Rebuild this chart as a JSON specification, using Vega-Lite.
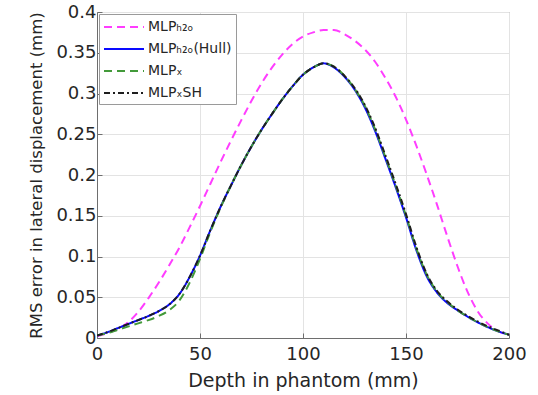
{
  "$schema": "https://vega.github.io/schema/vega-lite/v6.json",
  "width": 412,
  "height": 326,
  "autosize": {"type": "none"},
  "padding": {"left": 97, "top": 12, "right": 29, "bottom": 57},
  "background": "white",
  "config": {
    "font": "DejaVu Sans",
    "view": {"stroke": "#8a8a8a", "strokeWidth": 1},
    "axis": {
      "gridColor": "#e3e3e3",
      "gridWidth": 1,
      "domainColor": "#6e6e6e",
      "tickColor": "#6e6e6e",
      "labelColor": "#262626",
      "titleColor": "#262626",
      "labelFont": "DejaVu Sans",
      "titleFont": "DejaVu Sans",
      "titleFontWeight": "normal"
    },
    "legend": {
      "title": null, "orient": "top-left", "offset": 2,
      "symbolType": "M-1,0H4", "symbolStrokeWidth": 2, "symbolSize": 256,
      "labelOffset": 27, "labelFontSize": 14, "labelColor": "#262626", "labelFont": "DejaVu Sans",
      "fillColor": "white", "strokeColor": "#9a9a9a", "padding": 4, "rowPadding": 6
    }
  },
  "data": {
    "values": [
      {"s": "MLPₕ₂ₒ", "x": 0, "y": 0.002}, {"s": "MLPₕ₂ₒ", "x": 5, "y": 0.006}, {"s": "MLPₕ₂ₒ", "x": 10, "y": 0.011}, {"s": "MLPₕ₂ₒ", "x": 15, "y": 0.019}, {"s": "MLPₕ₂ₒ", "x": 20, "y": 0.032}, {"s": "MLPₕ₂ₒ", "x": 25, "y": 0.049}, {"s": "MLPₕ₂ₒ", "x": 30, "y": 0.068}, {"s": "MLPₕ₂ₒ", "x": 35, "y": 0.089}, {"s": "MLPₕ₂ₒ", "x": 40, "y": 0.111}, {"s": "MLPₕ₂ₒ", "x": 45, "y": 0.136}, {"s": "MLPₕ₂ₒ", "x": 50, "y": 0.162}, {"s": "MLPₕ₂ₒ", "x": 55, "y": 0.189}, {"s": "MLPₕ₂ₒ", "x": 60, "y": 0.216}, {"s": "MLPₕ₂ₒ", "x": 65, "y": 0.242}, {"s": "MLPₕ₂ₒ", "x": 70, "y": 0.267}, {"s": "MLPₕ₂ₒ", "x": 75, "y": 0.291}, {"s": "MLPₕ₂ₒ", "x": 80, "y": 0.313}, {"s": "MLPₕ₂ₒ", "x": 85, "y": 0.332}, {"s": "MLPₕ₂ₒ", "x": 90, "y": 0.348}, {"s": "MLPₕ₂ₒ", "x": 95, "y": 0.361}, {"s": "MLPₕ₂ₒ", "x": 100, "y": 0.370}, {"s": "MLPₕ₂ₒ", "x": 105, "y": 0.375}, {"s": "MLPₕ₂ₒ", "x": 110, "y": 0.378}, {"s": "MLPₕ₂ₒ", "x": 115, "y": 0.378}, {"s": "MLPₕ₂ₒ", "x": 120, "y": 0.373}, {"s": "MLPₕ₂ₒ", "x": 125, "y": 0.365}, {"s": "MLPₕ₂ₒ", "x": 130, "y": 0.354}, {"s": "MLPₕ₂ₒ", "x": 135, "y": 0.339}, {"s": "MLPₕ₂ₒ", "x": 140, "y": 0.319}, {"s": "MLPₕ₂ₒ", "x": 145, "y": 0.296}, {"s": "MLPₕ₂ₒ", "x": 150, "y": 0.268}, {"s": "MLPₕ₂ₒ", "x": 155, "y": 0.236}, {"s": "MLPₕ₂ₒ", "x": 160, "y": 0.201}, {"s": "MLPₕ₂ₒ", "x": 165, "y": 0.164}, {"s": "MLPₕ₂ₒ", "x": 170, "y": 0.125}, {"s": "MLPₕ₂ₒ", "x": 175, "y": 0.088}, {"s": "MLPₕ₂ₒ", "x": 180, "y": 0.056}, {"s": "MLPₕ₂ₒ", "x": 185, "y": 0.032}, {"s": "MLPₕ₂ₒ", "x": 190, "y": 0.017}, {"s": "MLPₕ₂ₒ", "x": 195, "y": 0.008}, {"s": "MLPₕ₂ₒ", "x": 200, "y": 0.004},

      {"s": "MLPₕ₂ₒ(Hull)", "x": 0, "y": 0.003}, {"s": "MLPₕ₂ₒ(Hull)", "x": 5, "y": 0.007}, {"s": "MLPₕ₂ₒ(Hull)", "x": 10, "y": 0.012}, {"s": "MLPₕ₂ₒ(Hull)", "x": 15, "y": 0.017}, {"s": "MLPₕ₂ₒ(Hull)", "x": 20, "y": 0.022}, {"s": "MLPₕ₂ₒ(Hull)", "x": 25, "y": 0.027}, {"s": "MLPₕ₂ₒ(Hull)", "x": 30, "y": 0.033}, {"s": "MLPₕ₂ₒ(Hull)", "x": 35, "y": 0.041}, {"s": "MLPₕ₂ₒ(Hull)", "x": 40, "y": 0.054}, {"s": "MLPₕ₂ₒ(Hull)", "x": 45, "y": 0.075}, {"s": "MLPₕ₂ₒ(Hull)", "x": 50, "y": 0.101}, {"s": "MLPₕ₂ₒ(Hull)", "x": 55, "y": 0.132}, {"s": "MLPₕ₂ₒ(Hull)", "x": 60, "y": 0.161}, {"s": "MLPₕ₂ₒ(Hull)", "x": 65, "y": 0.187}, {"s": "MLPₕ₂ₒ(Hull)", "x": 70, "y": 0.212}, {"s": "MLPₕ₂ₒ(Hull)", "x": 75, "y": 0.235}, {"s": "MLPₕ₂ₒ(Hull)", "x": 80, "y": 0.256}, {"s": "MLPₕ₂ₒ(Hull)", "x": 85, "y": 0.275}, {"s": "MLPₕ₂ₒ(Hull)", "x": 90, "y": 0.293}, {"s": "MLPₕ₂ₒ(Hull)", "x": 95, "y": 0.309}, {"s": "MLPₕ₂ₒ(Hull)", "x": 100, "y": 0.323}, {"s": "MLPₕ₂ₒ(Hull)", "x": 105, "y": 0.332}, {"s": "MLPₕ₂ₒ(Hull)", "x": 110, "y": 0.337}, {"s": "MLPₕ₂ₒ(Hull)", "x": 115, "y": 0.332}, {"s": "MLPₕ₂ₒ(Hull)", "x": 120, "y": 0.321}, {"s": "MLPₕ₂ₒ(Hull)", "x": 125, "y": 0.305}, {"s": "MLPₕ₂ₒ(Hull)", "x": 130, "y": 0.283}, {"s": "MLPₕ₂ₒ(Hull)", "x": 135, "y": 0.254}, {"s": "MLPₕ₂ₒ(Hull)", "x": 140, "y": 0.220}, {"s": "MLPₕ₂ₒ(Hull)", "x": 145, "y": 0.185}, {"s": "MLPₕ₂ₒ(Hull)", "x": 150, "y": 0.148}, {"s": "MLPₕ₂ₒ(Hull)", "x": 155, "y": 0.108}, {"s": "MLPₕ₂ₒ(Hull)", "x": 160, "y": 0.076}, {"s": "MLPₕ₂ₒ(Hull)", "x": 165, "y": 0.056}, {"s": "MLPₕ₂ₒ(Hull)", "x": 170, "y": 0.043}, {"s": "MLPₕ₂ₒ(Hull)", "x": 175, "y": 0.034}, {"s": "MLPₕ₂ₒ(Hull)", "x": 180, "y": 0.026}, {"s": "MLPₕ₂ₒ(Hull)", "x": 185, "y": 0.019}, {"s": "MLPₕ₂ₒ(Hull)", "x": 190, "y": 0.013}, {"s": "MLPₕ₂ₒ(Hull)", "x": 195, "y": 0.008}, {"s": "MLPₕ₂ₒ(Hull)", "x": 200, "y": 0.004},

      {"s": "MLPₓ", "x": 0, "y": 0.003}, {"s": "MLPₓ", "x": 5, "y": 0.006}, {"s": "MLPₓ", "x": 10, "y": 0.010}, {"s": "MLPₓ", "x": 15, "y": 0.014}, {"s": "MLPₓ", "x": 20, "y": 0.018}, {"s": "MLPₓ", "x": 25, "y": 0.022}, {"s": "MLPₓ", "x": 30, "y": 0.027}, {"s": "MLPₓ", "x": 35, "y": 0.034}, {"s": "MLPₓ", "x": 40, "y": 0.046}, {"s": "MLPₓ", "x": 45, "y": 0.068}, {"s": "MLPₓ", "x": 50, "y": 0.097}, {"s": "MLPₓ", "x": 55, "y": 0.130}, {"s": "MLPₓ", "x": 60, "y": 0.160}, {"s": "MLPₓ", "x": 65, "y": 0.187}, {"s": "MLPₓ", "x": 70, "y": 0.212}, {"s": "MLPₓ", "x": 75, "y": 0.235}, {"s": "MLPₓ", "x": 80, "y": 0.256}, {"s": "MLPₓ", "x": 85, "y": 0.275}, {"s": "MLPₓ", "x": 90, "y": 0.293}, {"s": "MLPₓ", "x": 95, "y": 0.309}, {"s": "MLPₓ", "x": 100, "y": 0.323}, {"s": "MLPₓ", "x": 105, "y": 0.332}, {"s": "MLPₓ", "x": 110, "y": 0.337}, {"s": "MLPₓ", "x": 115, "y": 0.333}, {"s": "MLPₓ", "x": 120, "y": 0.322}, {"s": "MLPₓ", "x": 125, "y": 0.306}, {"s": "MLPₓ", "x": 130, "y": 0.285}, {"s": "MLPₓ", "x": 135, "y": 0.256}, {"s": "MLPₓ", "x": 140, "y": 0.222}, {"s": "MLPₓ", "x": 145, "y": 0.187}, {"s": "MLPₓ", "x": 150, "y": 0.150}, {"s": "MLPₓ", "x": 155, "y": 0.110}, {"s": "MLPₓ", "x": 160, "y": 0.078}, {"s": "MLPₓ", "x": 165, "y": 0.057}, {"s": "MLPₓ", "x": 170, "y": 0.044}, {"s": "MLPₓ", "x": 175, "y": 0.034}, {"s": "MLPₓ", "x": 180, "y": 0.026}, {"s": "MLPₓ", "x": 185, "y": 0.019}, {"s": "MLPₓ", "x": 190, "y": 0.013}, {"s": "MLPₓ", "x": 195, "y": 0.008}, {"s": "MLPₓ", "x": 200, "y": 0.004},

      {"s": "MLPₓSH", "x": 0, "y": 0.003}, {"s": "MLPₓSH", "x": 5, "y": 0.007}, {"s": "MLPₓSH", "x": 10, "y": 0.012}, {"s": "MLPₓSH", "x": 15, "y": 0.017}, {"s": "MLPₓSH", "x": 20, "y": 0.022}, {"s": "MLPₓSH", "x": 25, "y": 0.027}, {"s": "MLPₓSH", "x": 30, "y": 0.033}, {"s": "MLPₓSH", "x": 35, "y": 0.041}, {"s": "MLPₓSH", "x": 40, "y": 0.054}, {"s": "MLPₓSH", "x": 45, "y": 0.075}, {"s": "MLPₓSH", "x": 50, "y": 0.101}, {"s": "MLPₓSH", "x": 55, "y": 0.132}, {"s": "MLPₓSH", "x": 60, "y": 0.161}, {"s": "MLPₓSH", "x": 65, "y": 0.187}, {"s": "MLPₓSH", "x": 70, "y": 0.212}, {"s": "MLPₓSH", "x": 75, "y": 0.235}, {"s": "MLPₓSH", "x": 80, "y": 0.256}, {"s": "MLPₓSH", "x": 85, "y": 0.275}, {"s": "MLPₓSH", "x": 90, "y": 0.293}, {"s": "MLPₓSH", "x": 95, "y": 0.309}, {"s": "MLPₓSH", "x": 100, "y": 0.323}, {"s": "MLPₓSH", "x": 105, "y": 0.332}, {"s": "MLPₓSH", "x": 110, "y": 0.337}, {"s": "MLPₓSH", "x": 115, "y": 0.333}, {"s": "MLPₓSH", "x": 120, "y": 0.322}, {"s": "MLPₓSH", "x": 125, "y": 0.307}, {"s": "MLPₓSH", "x": 130, "y": 0.286}, {"s": "MLPₓSH", "x": 135, "y": 0.258}, {"s": "MLPₓSH", "x": 140, "y": 0.224}, {"s": "MLPₓSH", "x": 145, "y": 0.189}, {"s": "MLPₓSH", "x": 150, "y": 0.152}, {"s": "MLPₓSH", "x": 155, "y": 0.112}, {"s": "MLPₓSH", "x": 160, "y": 0.079}, {"s": "MLPₓSH", "x": 165, "y": 0.058}, {"s": "MLPₓSH", "x": 170, "y": 0.045}, {"s": "MLPₓSH", "x": 175, "y": 0.035}, {"s": "MLPₓSH", "x": 180, "y": 0.027}, {"s": "MLPₓSH", "x": 185, "y": 0.020}, {"s": "MLPₓSH", "x": 190, "y": 0.014}, {"s": "MLPₓSH", "x": 195, "y": 0.009}, {"s": "MLPₓSH", "x": 200, "y": 0.004}
    ]
  },
  "mark": {"type": "line", "strokeWidth": 2, "interpolate": "monotone", "clip": true},
  "encoding": {
    "x": {
      "field": "x", "type": "quantitative",
      "scale": {"domain": [0, 200], "nice": false},
      "axis": {"values": [0, 50, 100, 150, 200], "title": "Depth in phantom (mm)", "labelFontSize": 18, "titleFontSize": 19, "labelPadding": 12, "titlePadding": 8, "tickSize": -5, "labelFlush": false}
    },
    "y": {
      "field": "y", "type": "quantitative",
      "scale": {"domain": [0, 0.4], "nice": false},
      "axis": {"values": [0, 0.05, 0.1, 0.15, 0.2, 0.25, 0.3, 0.35, 0.4], "title": "RMS error in lateral displacement (mm)", "labelFontSize": 18, "titleFontSize": 16.5, "labelPadding": 6, "titlePadding": 11, "tickSize": -5, "labelFlush": false, "labelExpr": "format(datum.value, '')"}
    },
    "color": {
      "field": "s", "type": "nominal", "sort": null,
      "scale": {"domain": ["MLPₕ₂ₒ", "MLPₕ₂ₒ(Hull)", "MLPₓ", "MLPₓSH"], "range": ["#ff3dff", "#0a0aff", "#439a3a", "#1e1e1e"]}
    },
    "strokeDash": {
      "field": "s", "type": "nominal", "sort": null,
      "scale": {"domain": ["MLPₕ₂ₒ", "MLPₕ₂ₒ(Hull)", "MLPₓ", "MLPₓSH"], "range": [[8, 5], [1, 0], [8, 5], [6, 3, 2, 3]]}
    },
    "order": {"field": "x", "type": "quantitative"}
  }
}
